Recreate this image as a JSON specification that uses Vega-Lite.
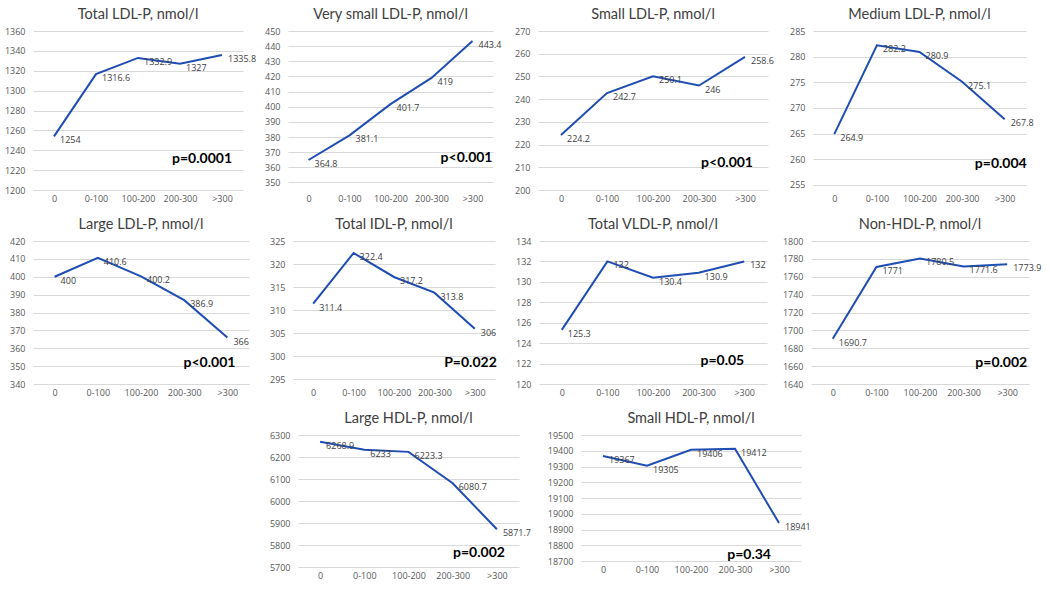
{
  "$schema": "https://vega.github.io/schema/vega-lite/v6.json",
  "padding": {"top": 6, "left": 4, "right": 4, "bottom": 2},
  "background": "white",
  "datasets": {
    "d": [
      {"m": "Total LDL-P", "g": "0", "v": 1254}, {"m": "Total LDL-P", "g": "0-100", "v": 1316.6}, {"m": "Total LDL-P", "g": "100-200", "v": 1332.9}, {"m": "Total LDL-P", "g": "200-300", "v": 1327}, {"m": "Total LDL-P", "g": ">300", "v": 1335.8},
      {"m": "Very small LDL-P", "g": "0", "v": 364.8}, {"m": "Very small LDL-P", "g": "0-100", "v": 381.1}, {"m": "Very small LDL-P", "g": "100-200", "v": 401.7}, {"m": "Very small LDL-P", "g": "200-300", "v": 419}, {"m": "Very small LDL-P", "g": ">300", "v": 443.4},
      {"m": "Small LDL-P", "g": "0", "v": 224.2}, {"m": "Small LDL-P", "g": "0-100", "v": 242.7}, {"m": "Small LDL-P", "g": "100-200", "v": 250.1}, {"m": "Small LDL-P", "g": "200-300", "v": 246}, {"m": "Small LDL-P", "g": ">300", "v": 258.6},
      {"m": "Medium LDL-P", "g": "0", "v": 264.9}, {"m": "Medium LDL-P", "g": "0-100", "v": 282.2}, {"m": "Medium LDL-P", "g": "100-200", "v": 280.9}, {"m": "Medium LDL-P", "g": "200-300", "v": 275.1}, {"m": "Medium LDL-P", "g": ">300", "v": 267.8},
      {"m": "Large LDL-P", "g": "0", "v": 400}, {"m": "Large LDL-P", "g": "0-100", "v": 410.6}, {"m": "Large LDL-P", "g": "100-200", "v": 400.2}, {"m": "Large LDL-P", "g": "200-300", "v": 386.9}, {"m": "Large LDL-P", "g": ">300", "v": 366},
      {"m": "Total IDL-P", "g": "0", "v": 311.4}, {"m": "Total IDL-P", "g": "0-100", "v": 322.4}, {"m": "Total IDL-P", "g": "100-200", "v": 317.2}, {"m": "Total IDL-P", "g": "200-300", "v": 313.8}, {"m": "Total IDL-P", "g": ">300", "v": 306},
      {"m": "Total VLDL-P", "g": "0", "v": 125.3}, {"m": "Total VLDL-P", "g": "0-100", "v": 132}, {"m": "Total VLDL-P", "g": "100-200", "v": 130.4}, {"m": "Total VLDL-P", "g": "200-300", "v": 130.9}, {"m": "Total VLDL-P", "g": ">300", "v": 132},
      {"m": "Non-HDL-P", "g": "0", "v": 1690.7}, {"m": "Non-HDL-P", "g": "0-100", "v": 1771}, {"m": "Non-HDL-P", "g": "100-200", "v": 1780.5}, {"m": "Non-HDL-P", "g": "200-300", "v": 1771.6}, {"m": "Non-HDL-P", "g": ">300", "v": 1773.9},
      {"m": "Large HDL-P", "g": "0", "v": 6268.9}, {"m": "Large HDL-P", "g": "0-100", "v": 6233}, {"m": "Large HDL-P", "g": "100-200", "v": 6223.3}, {"m": "Large HDL-P", "g": "200-300", "v": 6080.7}, {"m": "Large HDL-P", "g": ">300", "v": 5871.7},
      {"m": "Small HDL-P", "g": "0", "v": 19367}, {"m": "Small HDL-P", "g": "0-100", "v": 19305}, {"m": "Small HDL-P", "g": "100-200", "v": 19406}, {"m": "Small HDL-P", "g": "200-300", "v": 19412}, {"m": "Small HDL-P", "g": ">300", "v": 18941}
    ],
    "pv": [
      {"m": "Total LDL-P", "p": "p=0.0001"},
      {"m": "Very small LDL-P", "p": "p<0.001"},
      {"m": "Small LDL-P", "p": "p<0.001"},
      {"m": "Medium LDL-P", "p": "p=0.004"},
      {"m": "Large LDL-P", "p": "p<0.001"},
      {"m": "Total IDL-P", "p": "P=0.022"},
      {"m": "Total VLDL-P", "p": "p=0.05"},
      {"m": "Non-HDL-P", "p": "p=0.002"},
      {"m": "Large HDL-P", "p": "p=0.002"},
      {"m": "Small HDL-P", "p": "p=0.34"}
    ]
  },
  "vconcat": [
    {
      "hconcat": [
        {"title": "Total LDL-P, nmol/l", "width": 210, "height": 159, "layer": [
          {"data": {"name": "d"}, "transform": [{"filter": "datum.m === 'Total LDL-P'"}], "mark": {"type": "line", "color": "#1f4db3", "strokeWidth": 2},
           "encoding": {"x": {"field": "g", "type": "ordinal", "scale": {"type": "point", "padding": 0.5, "domain": ["0", "0-100", "100-200", "200-300", ">300"]}, "axis": {"title": null, "labelAngle": 0}},
                        "y": {"field": "v", "type": "quantitative", "scale": {"domain": [1200, 1360], "nice": false, "zero": false}, "axis": {"title": null, "format": "d", "tickCount": 30, "values": [1200, 1220, 1240, 1260, 1280, 1300, 1320, 1340, 1360]}}}},
          {"data": {"name": "d"}, "transform": [{"filter": "datum.m === 'Total LDL-P'"}], "mark": {"type": "text", "align": "left", "baseline": "middle", "dx": 6, "dy": 4, "fontSize": 9, "font": "Open Sans", "color": "#404040"},
           "encoding": {"x": {"field": "g", "type": "ordinal"}, "y": {"field": "v", "type": "quantitative"}, "text": {"field": "v", "type": "nominal"}}},
          {"data": {"name": "pv"}, "transform": [{"filter": "datum.m === 'Total LDL-P'"}], "mark": {"type": "text", "align": "right", "baseline": "middle", "dx": 10, "fontSize": 14, "fontWeight": "bold", "color": "#000000"},
           "encoding": {"x": {"datum": ">300", "type": "ordinal"}, "y": {"datum": 1231, "type": "quantitative"}, "text": {"field": "p", "type": "nominal"}}}
        ]},
        {"title": "Very small LDL-P, nmol/l", "width": 205, "height": 159, "layer": [
          {"data": {"name": "d"}, "transform": [{"filter": "datum.m === 'Very small LDL-P'"}], "mark": {"type": "line", "color": "#1f4db3", "strokeWidth": 2},
           "encoding": {"x": {"field": "g", "type": "ordinal", "scale": {"type": "point", "padding": 0.5, "domain": ["0", "0-100", "100-200", "200-300", ">300"]}, "axis": {"title": null, "labelAngle": 0}},
                        "y": {"field": "v", "type": "quantitative", "scale": {"domain": [345, 450], "nice": false, "zero": false}, "axis": {"title": null, "format": "d", "tickCount": 30, "values": [350, 360, 370, 380, 390, 400, 410, 420, 430, 440, 450]}}}},
          {"data": {"name": "d"}, "transform": [{"filter": "datum.m === 'Very small LDL-P'"}], "mark": {"type": "text", "align": "left", "baseline": "middle", "dx": 6, "dy": 4, "fontSize": 9, "font": "Open Sans", "color": "#404040"},
           "encoding": {"x": {"field": "g", "type": "ordinal"}, "y": {"field": "v", "type": "quantitative"}, "text": {"field": "v", "type": "nominal"}}},
          {"data": {"name": "pv"}, "transform": [{"filter": "datum.m === 'Very small LDL-P'"}], "mark": {"type": "text", "align": "right", "baseline": "middle", "dx": 20, "fontSize": 14, "fontWeight": "bold", "color": "#000000"},
           "encoding": {"x": {"datum": ">300", "type": "ordinal"}, "y": {"datum": 366, "type": "quantitative"}, "text": {"field": "p", "type": "nominal"}}}
        ]},
        {"title": "Small LDL-P, nmol/l", "width": 230, "height": 159, "layer": [
          {"data": {"name": "d"}, "transform": [{"filter": "datum.m === 'Small LDL-P'"}], "mark": {"type": "line", "color": "#1f4db3", "strokeWidth": 2},
           "encoding": {"x": {"field": "g", "type": "ordinal", "scale": {"type": "point", "padding": 0.5, "domain": ["0", "0-100", "100-200", "200-300", ">300"]}, "axis": {"title": null, "labelAngle": 0}},
                        "y": {"field": "v", "type": "quantitative", "scale": {"domain": [200, 270], "nice": false, "zero": false}, "axis": {"title": null, "format": "d", "tickCount": 30, "values": [200, 210, 220, 230, 240, 250, 260, 270]}}}},
          {"data": {"name": "d"}, "transform": [{"filter": "datum.m === 'Small LDL-P'"}], "mark": {"type": "text", "align": "left", "baseline": "middle", "dx": 6, "dy": 4, "fontSize": 9, "font": "Open Sans", "color": "#404040"},
           "encoding": {"x": {"field": "g", "type": "ordinal"}, "y": {"field": "v", "type": "quantitative"}, "text": {"field": "v", "type": "nominal"}}},
          {"data": {"name": "pv"}, "transform": [{"filter": "datum.m === 'Small LDL-P'"}], "mark": {"type": "text", "align": "right", "baseline": "middle", "dx": 8, "fontSize": 14, "fontWeight": "bold", "color": "#000000"},
           "encoding": {"x": {"datum": ">300", "type": "ordinal"}, "y": {"datum": 212, "type": "quantitative"}, "text": {"field": "p", "type": "nominal"}}}
        ]},
        {"title": "Medium LDL-P, nmol/l", "width": 213, "height": 159, "layer": [
          {"data": {"name": "d"}, "transform": [{"filter": "datum.m === 'Medium LDL-P'"}], "mark": {"type": "line", "color": "#1f4db3", "strokeWidth": 2},
           "encoding": {"x": {"field": "g", "type": "ordinal", "scale": {"type": "point", "padding": 0.5, "domain": ["0", "0-100", "100-200", "200-300", ">300"]}, "axis": {"title": null, "labelAngle": 0}},
                        "y": {"field": "v", "type": "quantitative", "scale": {"domain": [254, 285], "nice": false, "zero": false}, "axis": {"title": null, "format": "d", "tickCount": 30, "values": [255, 260, 265, 270, 275, 280, 285]}}}},
          {"data": {"name": "d"}, "transform": [{"filter": "datum.m === 'Medium LDL-P'"}], "mark": {"type": "text", "align": "left", "baseline": "middle", "dx": 6, "dy": 4, "fontSize": 9, "font": "Open Sans", "color": "#404040"},
           "encoding": {"x": {"field": "g", "type": "ordinal"}, "y": {"field": "v", "type": "quantitative"}, "text": {"field": "v", "type": "nominal"}}},
          {"data": {"name": "pv"}, "transform": [{"filter": "datum.m === 'Medium LDL-P'"}], "mark": {"type": "text", "align": "right", "baseline": "middle", "dx": 22, "fontSize": 14, "fontWeight": "bold", "color": "#000000"},
           "encoding": {"x": {"datum": ">300", "type": "ordinal"}, "y": {"datum": 259, "type": "quantitative"}, "text": {"field": "p", "type": "nominal"}}}
        ]}
      ],
      "bounds": "flush",
      "spacing": 45
    },
    {
      "hconcat": [
        {"title": "Large LDL-P, nmol/l", "width": 216, "height": 143, "layer": [
          {"data": {"name": "d"}, "transform": [{"filter": "datum.m === 'Large LDL-P'"}], "mark": {"type": "line", "color": "#1f4db3", "strokeWidth": 2},
           "encoding": {"x": {"field": "g", "type": "ordinal", "scale": {"type": "point", "padding": 0.5, "domain": ["0", "0-100", "100-200", "200-300", ">300"]}, "axis": {"title": null, "labelAngle": 0}},
                        "y": {"field": "v", "type": "quantitative", "scale": {"domain": [340, 420], "nice": false, "zero": false}, "axis": {"title": null, "format": "d", "tickCount": 30, "values": [340, 350, 360, 370, 380, 390, 400, 410, 420]}}}},
          {"data": {"name": "d"}, "transform": [{"filter": "datum.m === 'Large LDL-P'"}], "mark": {"type": "text", "align": "left", "baseline": "middle", "dx": 6, "dy": 4, "fontSize": 9, "font": "Open Sans", "color": "#404040"},
           "encoding": {"x": {"field": "g", "type": "ordinal"}, "y": {"field": "v", "type": "quantitative"}, "text": {"field": "v", "type": "nominal"}}},
          {"data": {"name": "pv"}, "transform": [{"filter": "datum.m === 'Large LDL-P'"}], "mark": {"type": "text", "align": "right", "baseline": "middle", "dx": 8, "fontSize": 14, "fontWeight": "bold", "color": "#000000"},
           "encoding": {"x": {"datum": ">300", "type": "ordinal"}, "y": {"datum": 352, "type": "quantitative"}, "text": {"field": "p", "type": "nominal"}}}
        ]},
        {"title": "Total IDL-P, nmol/l", "width": 202, "height": 143, "layer": [
          {"data": {"name": "d"}, "transform": [{"filter": "datum.m === 'Total IDL-P'"}], "mark": {"type": "line", "color": "#1f4db3", "strokeWidth": 2},
           "encoding": {"x": {"field": "g", "type": "ordinal", "scale": {"type": "point", "padding": 0.5, "domain": ["0", "0-100", "100-200", "200-300", ">300"]}, "axis": {"title": null, "labelAngle": 0}},
                        "y": {"field": "v", "type": "quantitative", "scale": {"domain": [294, 325], "nice": false, "zero": false}, "axis": {"title": null, "format": "d", "tickCount": 30, "values": [295, 300, 305, 310, 315, 320, 325]}}}},
          {"data": {"name": "d"}, "transform": [{"filter": "datum.m === 'Total IDL-P'"}], "mark": {"type": "text", "align": "left", "baseline": "middle", "dx": 6, "dy": 4, "fontSize": 9, "font": "Open Sans", "color": "#404040"},
           "encoding": {"x": {"field": "g", "type": "ordinal"}, "y": {"field": "v", "type": "quantitative"}, "text": {"field": "v", "type": "nominal"}}},
          {"data": {"name": "pv"}, "transform": [{"filter": "datum.m === 'Total IDL-P'"}], "mark": {"type": "text", "align": "right", "baseline": "middle", "dx": 22, "fontSize": 14, "fontWeight": "bold", "color": "#000000"},
           "encoding": {"x": {"datum": ">300", "type": "ordinal"}, "y": {"datum": 298.5, "type": "quantitative"}, "text": {"field": "p", "type": "nominal"}}}
        ]},
        {"title": "Total VLDL-P, nmol/l", "width": 228, "height": 143, "layer": [
          {"data": {"name": "d"}, "transform": [{"filter": "datum.m === 'Total VLDL-P'"}], "mark": {"type": "line", "color": "#1f4db3", "strokeWidth": 2},
           "encoding": {"x": {"field": "g", "type": "ordinal", "scale": {"type": "point", "padding": 0.5, "domain": ["0", "0-100", "100-200", "200-300", ">300"]}, "axis": {"title": null, "labelAngle": 0}},
                        "y": {"field": "v", "type": "quantitative", "scale": {"domain": [120, 134], "nice": false, "zero": false}, "axis": {"title": null, "format": "d", "tickCount": 30, "values": [120, 122, 124, 126, 128, 130, 132, 134]}}}},
          {"data": {"name": "d"}, "transform": [{"filter": "datum.m === 'Total VLDL-P'"}], "mark": {"type": "text", "align": "left", "baseline": "middle", "dx": 6, "dy": 4, "fontSize": 9, "font": "Open Sans", "color": "#404040"},
           "encoding": {"x": {"field": "g", "type": "ordinal"}, "y": {"field": "v", "type": "quantitative"}, "text": {"field": "v", "type": "nominal"}}},
          {"data": {"name": "pv"}, "transform": [{"filter": "datum.m === 'Total VLDL-P'"}], "mark": {"type": "text", "align": "right", "baseline": "middle", "dx": 0, "fontSize": 14, "fontWeight": "bold", "color": "#000000"},
           "encoding": {"x": {"datum": ">300", "type": "ordinal"}, "y": {"datum": 122.3, "type": "quantitative"}, "text": {"field": "p", "type": "nominal"}}}
        ]},
        {"title": "Non-HDL-P, nmol/l", "width": 218, "height": 143, "layer": [
          {"data": {"name": "d"}, "transform": [{"filter": "datum.m === 'Non-HDL-P'"}], "mark": {"type": "line", "color": "#1f4db3", "strokeWidth": 2},
           "encoding": {"x": {"field": "g", "type": "ordinal", "scale": {"type": "point", "padding": 0.5, "domain": ["0", "0-100", "100-200", "200-300", ">300"]}, "axis": {"title": null, "labelAngle": 0}},
                        "y": {"field": "v", "type": "quantitative", "scale": {"domain": [1640, 1800], "nice": false, "zero": false}, "axis": {"title": null, "format": "d", "tickCount": 30, "values": [1640, 1660, 1680, 1700, 1720, 1740, 1760, 1780, 1800]}}}},
          {"data": {"name": "d"}, "transform": [{"filter": "datum.m === 'Non-HDL-P'"}], "mark": {"type": "text", "align": "left", "baseline": "middle", "dx": 6, "dy": 4, "fontSize": 9, "font": "Open Sans", "color": "#404040"},
           "encoding": {"x": {"field": "g", "type": "ordinal"}, "y": {"field": "v", "type": "quantitative"}, "text": {"field": "v", "type": "nominal"}}},
          {"data": {"name": "pv"}, "transform": [{"filter": "datum.m === 'Non-HDL-P'"}], "mark": {"type": "text", "align": "right", "baseline": "middle", "dx": 20, "fontSize": 14, "fontWeight": "bold", "color": "#000000"},
           "encoding": {"x": {"datum": ">300", "type": "ordinal"}, "y": {"datum": 1664, "type": "quantitative"}, "text": {"field": "p", "type": "nominal"}}}
        ]}
      ],
      "bounds": "flush",
      "spacing": 44
    },
    {
      "hconcat": [
        {"width": 203, "height": 132, "data": {"values": []}, "mark": "point"},
        {"title": "Large HDL-P, nmol/l", "width": 221, "height": 132, "layer": [
          {"data": {"name": "d"}, "transform": [{"filter": "datum.m === 'Large HDL-P'"}], "mark": {"type": "line", "color": "#1f4db3", "strokeWidth": 2},
           "encoding": {"x": {"field": "g", "type": "ordinal", "scale": {"type": "point", "padding": 0.5, "domain": ["0", "0-100", "100-200", "200-300", ">300"]}, "axis": {"title": null, "labelAngle": 0}},
                        "y": {"field": "v", "type": "quantitative", "scale": {"domain": [5700, 6300], "nice": false, "zero": false}, "axis": {"title": null, "format": "d", "tickCount": 30, "values": [5700, 5800, 5900, 6000, 6100, 6200, 6300]}}}},
          {"data": {"name": "d"}, "transform": [{"filter": "datum.m === 'Large HDL-P'"}], "mark": {"type": "text", "align": "left", "baseline": "middle", "dx": 6, "dy": 4, "fontSize": 9, "font": "Open Sans", "color": "#404040"},
           "encoding": {"x": {"field": "g", "type": "ordinal"}, "y": {"field": "v", "type": "quantitative"}, "text": {"field": "v", "type": "nominal"}}},
          {"data": {"name": "pv"}, "transform": [{"filter": "datum.m === 'Large HDL-P'"}], "mark": {"type": "text", "align": "right", "baseline": "middle", "dx": 8, "fontSize": 14, "fontWeight": "bold", "color": "#000000"},
           "encoding": {"x": {"datum": ">300", "type": "ordinal"}, "y": {"datum": 5765, "type": "quantitative"}, "text": {"field": "p", "type": "nominal"}}}
        ]},
        {"title": "Small HDL-P, nmol/l", "width": 220, "height": 126, "layer": [
          {"data": {"name": "d"}, "transform": [{"filter": "datum.m === 'Small HDL-P'"}], "mark": {"type": "line", "color": "#1f4db3", "strokeWidth": 2},
           "encoding": {"x": {"field": "g", "type": "ordinal", "scale": {"type": "point", "padding": 0.5, "domain": ["0", "0-100", "100-200", "200-300", ">300"]}, "axis": {"title": null, "labelAngle": 0}},
                        "y": {"field": "v", "type": "quantitative", "scale": {"domain": [18700, 19500], "nice": false, "zero": false}, "axis": {"title": null, "format": "d", "tickCount": 30, "values": [18700, 18800, 18900, 19000, 19100, 19200, 19300, 19400, 19500]}}}},
          {"data": {"name": "d"}, "transform": [{"filter": "datum.m === 'Small HDL-P'"}], "mark": {"type": "text", "align": "left", "baseline": "middle", "dx": 6, "dy": 4, "fontSize": 9, "font": "Open Sans", "color": "#404040"},
           "encoding": {"x": {"field": "g", "type": "ordinal"}, "y": {"field": "v", "type": "quantitative"}, "text": {"field": "v", "type": "nominal"}}},
          {"data": {"name": "pv"}, "transform": [{"filter": "datum.m === 'Small HDL-P'"}], "mark": {"type": "text", "align": "right", "baseline": "middle", "dx": -8, "fontSize": 14, "fontWeight": "bold", "color": "#000000"},
           "encoding": {"x": {"datum": ">300", "type": "ordinal"}, "y": {"datum": 18735, "type": "quantitative"}, "text": {"field": "p", "type": "nominal"}}}
        ]}
      ],
      "bounds": "flush",
      "spacing": 62
    }
  ],
  "spacing": 13,
  "config": {
    "font": "Lato",
    "view": {"stroke": null},
    "axis": {"domain": false, "ticks": false, "labelColor": "#595959", "labelFontSize": 9, "labelFont": "Open Sans"},
    "axisY": {"grid": true, "gridColor": "#d9d9d9", "gridWidth": 1, "labelPadding": 8},
    "axisX": {"grid": false, "labelPadding": 4},
    "title": {"fontSize": 14.5, "fontWeight": "normal", "color": "#404040", "font": "Lato", "offset": 5}
  }
}
